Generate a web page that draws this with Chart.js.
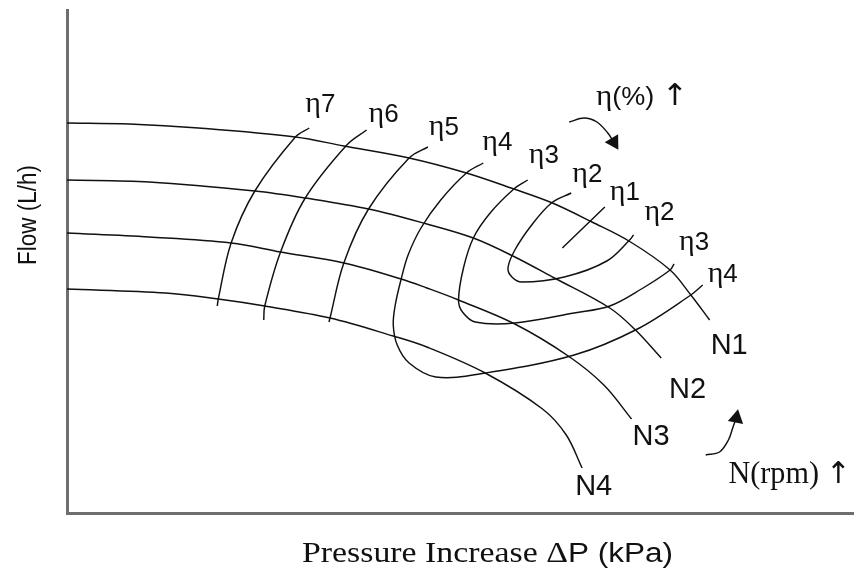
<!DOCTYPE html>
<html><head><meta charset="utf-8">
<script src="https://cdn.jsdelivr.net/npm/chart.js@4.4.1/dist/chart.umd.min.js"></script>
<style>html,body{margin:0;padding:0;background:#fff;}#wrap{width:862px;height:572px;}</style>
</head><body><div id="wrap"><canvas id="c" width="862" height="572"></canvas></div>
<script>
// Schematic pump map: x = pressure increase, y = flow (arbitrary schematic units)
// Speed lines N1..N4 (rpm increases N4 -> N1)
const N1 = [[0,390],[63,389],[133,385],[231,376],[280,367],[346,355],[404,340],[452,324],[491,310],[531,291],[570,271],[610,243],[631,218],[650,193]];
const N2 = [[0,333],[83,331],[190,322],[241,315],[305,304],[364,289],[411,275],[451,257],[493,235],[549,205],[575,183],[601,155]];
const N3 = [[0,280],[83,276],[166,270],[216,261],[280,250],[338,234],[364,225],[396,213],[453,189],[507,157],[543,128],[571,94]];
const N4 = [[0,224],[100,220],[153,214],[200,207],[266,195],[330,177],[364,166],[423,140],[481,104],[505,78],[521,45]];
// Iso-efficiency contours
const eta7 = [[245,385],[231,376],[190,322],[166,270],[153,214],[152,207]];
const eta6 = [[303,383],[283,368],[241,315],[216,261],[200,207],[199,193]];
const eta5 = [[365,366],[346,355],[305,304],[280,250],[266,195],[265,191]];
const eta4 = [[421,350],[404,340],[378,313],[358,285],[345,258],[338,234],[332,208],[330,188],[334,168],[346,150],[373,136],[423,140],[513,158],[577,184],[631,218],[643,228]];
const eta3 = [[466,333],[452,324],[428,300],[411,275],[401,245],[396,213],[400,201],[413,191],[453,190],[513,200],[549,207],[581,224],[610,243],[614,249]];
const eta2 = [[510,320],[490,310],[470,288],[453,263],[446,245],[450,236],[460,231],[503,236],[546,252],[570,274],[573,278]];
const eta1 = [[501,265],[544,306]];
// Trend arrows
const etaArrow = [[508,391],[523,395],[536,391],[547,380],[553,371]];
const rpmArrow = [[646,58],[660,61],[669,73],[674,87],[677,95]];

const curves = [N1,N2,N3,N4,eta7,eta6,eta5,eta4,eta3,eta2,eta1];
const curveNames = ['N1','N2','N3','N4','η7','η6','η5','η4','η3','η2','η1'];

const ETA = '30px "Liberation Serif"', DIG = '26px "Liberation Sans"', NF = '29px "Liberation Sans"',
      SER = '31px "Liberation Serif"', ARW = '30px "DejaVu Sans"';
// text annotations: parts [text, font, dy], anchor (x,y) in data units = left/baseline, optional fitted width
const annotations = [
  {p:[['η',ETA],['7',DIG]], x:241, y:401},
  {p:[['η',ETA],['6',DIG]], x:305, y:391},
  {p:[['η',ETA],['5',DIG]], x:366, y:378},
  {p:[['η',ETA],['4',DIG]], x:420, y:363},
  {p:[['η',ETA],['3',DIG]], x:467, y:350},
  {p:[['η',ETA],['2',DIG]], x:511, y:331},
  {p:[['η',ETA],['1',DIG]], x:549, y:313},
  {p:[['η',ETA],['2',DIG]], x:584, y:293},
  {p:[['η',ETA],['3',DIG]], x:619, y:263},
  {p:[['η',ETA],['4',DIG]], x:648, y:231},
  {p:[['N1',NF]], x:651, y:159},
  {p:[['N2',NF]], x:609, y:115},
  {p:[['N3',NF]], x:572, y:68},
  {p:[['N4',NF]], x:514, y:18},
  {p:[['η',ETA],['(%)',DIG],[' ',DIG],['↑',ARW]], x:535, y:408, w:92},
  {p:[['N(rpm)',SER],[' ',DIG],['↑',ARW]], x:669, y:30, w:122}
];

function drawParts(ctx, parts, x, y, fit) {
  const ws = parts.map(p => { ctx.font = p[1]; return ctx.measureText(p[0]).width; });
  const total = ws.reduce((a,b)=>a+b,0);
  ctx.save(); ctx.translate(x, y);
  if (fit) ctx.scale(fit/total, 1);
  let cx = 0;
  parts.forEach((p,i) => { ctx.font = p[1]; ctx.fillText(p[0], cx, p[2]||0); cx += ws[i]; });
  ctx.restore();
}

const textPlugin = {
  id: 'texts',
  afterDraw(chart) {
    const {ctx, chartArea, scales:{x, y}} = chart;
    ctx.save();
    ctx.fillStyle = '#111'; ctx.textBaseline = 'alphabetic'; ctx.textAlign = 'left';
    annotations.forEach(a => drawParts(ctx, a.p, x.getPixelForValue(a.x), y.getPixelForValue(a.y), a.w));
    // x axis title
    drawParts(ctx, [['Pressure Increase ', '29px "Liberation Serif"'], ['Δ','29px "Liberation Serif"'], ['P (kPa)','27px "Liberation Sans"']],
      chartArea.left + 235, chartArea.bottom + 49, 371);
    // y axis title
    ctx.save();
    ctx.translate(36, chartArea.top + 255);
    ctx.rotate(-Math.PI/2);
    drawParts(ctx, [['Flow (L/h)', '26px "Liberation Sans"']], 0, 0, 100);
    ctx.restore();
    ctx.restore();
  }
};

const lineStyle = {showLine:true, borderColor:'#111', borderWidth:1.45, pointRadius:0, tension:0.35, fill:false};
const datasets = curves.map((c,i) => Object.assign({label: curveNames[i], data: c.map(p => ({x:p[0], y:p[1]}))}, lineStyle));
[[etaArrow,149],[rpmArrow,11]].forEach(([arr,rot]) => {
  datasets.push(Object.assign({}, lineStyle, {
    label:'arrow', data: arr.map(p => ({x:p[0], y:p[1]})),
    pointRadius: arr.map((p,i) => i === arr.length-1 ? 9 : 0),
    pointStyle:'triangle', pointRotation: rot, pointBackgroundColor:'#111', pointBorderColor:'#111', pointBorderWidth:0
  }));
});

new Chart(document.getElementById('c'), {
  type: 'scatter',
  data: { datasets },
  plugins: [textPlugin],
  options: {
    responsive:false, animation:false, devicePixelRatio:1,
    layout:{padding:{top:10, right:0, left:0, bottom:0}},
    plugins:{legend:{display:false}, tooltip:{enabled:false}},
    scales:{
      x:{type:'linear', min:0, max:795, ticks:{display:false}, grid:{display:false, drawTicks:false},
         border:{display:true, color:'#6e6e6e', width:3}, afterFit(s){ s.height = 59; }},
      y:{type:'linear', min:0, max:503, ticks:{display:false}, grid:{display:false, drawTicks:false},
         border:{display:true, color:'#6e6e6e', width:3}, afterFit(s){ s.width = 67; }}
    }
  }
});
</script></body></html>
